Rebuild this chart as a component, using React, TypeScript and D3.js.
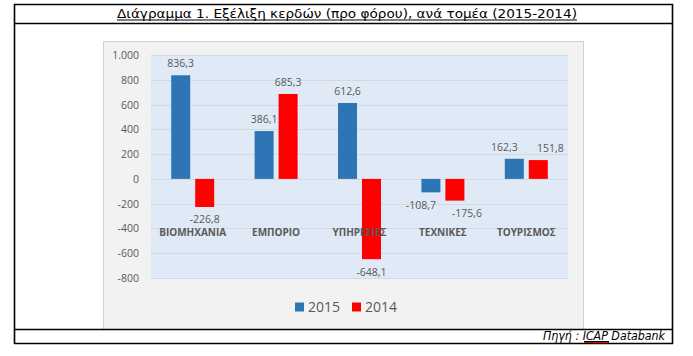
import React from "react";
import * as d3 from "d3";

const categories = ["ΒΙΟΜΗΧΑΝΙΑ", "ΕΜΠΟΡΙΟ", "ΥΠΗΡΕΣΙΕΣ", "ΤΕΧΝΙΚΕΣ", "ΤΟΥΡΙΣΜΟΣ"];
const seriesNames = ["2015", "2014"];
const values2015 = [836.3, 386.1, 612.6, -108.7, 162.3];
const values2014 = [-226.8, 685.3, -648.1, -175.6, 151.8];
const yTicks = [1000, 800, 600, 400, 200, 0, -200, -400, -600, -800];
const colors = ["#2e75b6", "#ff0000"];
const title = "Διάγραμμα 1. Εξέλιξη κερδών (προ φόρου), ανά τομέα (2015-2014)";

const W = 693;
const H = 356;
const plot = { left: 151, right: 568, top: 55, bottom: 278 };

const fmtNum = (v: number) => v.toFixed(1).replace(".", ",");
const fmtTick = (v: number) => {
  const s = Math.abs(v) >= 1000 ? d3.format(",")(v).replace(/,/g, ".") : String(v);
  return s;
};

export default function App() {
  const y = d3.scaleLinear().domain([-800, 1000]).range([plot.bottom, plot.top]);
  const x0 = d3.scaleBand<string>().domain(categories).range([plot.left, plot.right]).padding(0);
  const groupW = 43;
  const x1 = d3.scaleBand<string>().domain(seriesNames).range([0, groupW]).paddingInner(0.208);
  const series = [values2015, values2014];
  const txt = "#595959";
  const chartFont = "'Open Sans', 'Noto Sans', sans-serif";
  const charW = 5.9;

  // label positions with simple collision avoidance (like Excel)
  const labels: { key: string; x: number; y: number; text: string }[] = [];
  categories.forEach((c, i) => {
    const group = series.map((vals, si) => {
      const v = vals[i];
      const gx = (x0(c) as number) + (x0.bandwidth() - groupW) / 2 + (x1(seriesNames[si]) as number);
      const yv = y(v);
      const text = fmtNum(v);
      return { key: c + si, x: gx + x1.bandwidth() / 2, y: v >= 0 ? yv - 8 : yv + 16.5, text };
    });
    const [a, b] = group;
    const wa = a.text.length * charW;
    const wb = b.text.length * charW;
    const hOverlap = a.x + wa / 2 > b.x - wb / 2;
    const vOverlap = Math.abs(a.y - b.y) < 12;
    if (hOverlap && vOverlap) {
      a.x -= 10;
      b.x += 12;
    }
    labels.push(a, b);
  });

  return (
    <svg width={W} height={H} style={{ position: "absolute", left: 0, top: 0 }}>
      <rect x={0} y={0} width={W} height={H} fill="#ffffff" />
      {/* chart area */}
      <rect x={103.5} y={41.5} width={480} height={288} fill="#f2f2f2" stroke="#d0d0d0" strokeWidth={1} />
      <rect x={plot.left} y={plot.top} width={plot.right - plot.left} height={plot.bottom - plot.top} fill="#dfeaf6" />
      {yTicks.map((t) => (
        <g key={t}>
          <line x1={plot.left} x2={plot.right} y1={Math.round(y(t)) + 0.5} y2={Math.round(y(t)) + 0.5} stroke="#d4d9de" strokeWidth={1} />
          <text x={139} y={y(t) + 4} textAnchor="end" fontFamily={chartFont} fontSize={10.5} fill={txt}>
            {fmtTick(t)}
          </text>
        </g>
      ))}
      {categories.map((c, i) =>
        series.map((vals, si) => {
          const v = vals[i];
          const gx = (x0(c) as number) + (x0.bandwidth() - groupW) / 2 + (x1(seriesNames[si]) as number);
          const y0 = y(0);
          const yv = y(v);
          const top = Math.min(y0, yv);
          const h = Math.abs(yv - y0);
          return <rect key={c + si} x={gx} y={top} width={x1.bandwidth()} height={h} fill={colors[si]} />;
        })
      )}
      {categories.map((c) => (
        <text key={c} x={(x0(c) as number) + x0.bandwidth() / 2} y={236} textAnchor="middle" fontFamily={chartFont} fontSize={10} fontWeight="bold" fill={txt}>
          {c}
        </text>
      ))}
      {labels.map((l) => (
        <text key={"l" + l.key} x={l.x} y={l.y} textAnchor="middle" fontFamily={chartFont} fontSize={10.5} fill={txt}>
          {l.text}
        </text>
      ))}
      {/* legend */}
      {seriesNames.map((s, si) => {
        const lx = si === 0 ? 295 : 352;
        return (
          <g key={s}>
            <rect x={lx} y={302.5} width={9} height={9} fill={colors[si]} />
            <text x={lx + 13} y={312} fontFamily={chartFont} fontSize={14} fill={txt}>
              {s}
            </text>
          </g>
        );
      })}
      {/* table frame */}
      <g stroke="#000" strokeWidth={1.6} fill="none">
        <line x1={14} x2={673} y1={4.5} y2={4.5} />
        <line x1={14} x2={673} y1={23.5} y2={23.5} />
        <line x1={14} x2={673} y1={329.5} y2={329.5} />
        <line x1={14} x2={673} y1={343.5} y2={343.5} />
        <line x1={14.5} x2={14.5} y1={4} y2={344} />
        <line x1={672.5} x2={672.5} y1={4} y2={344} />
      </g>
      <text x={117} y={18} fontFamily="'DejaVu Sans', Verdana, sans-serif" fontSize={12.5} fill="#000" textLength={460} lengthAdjust="spacingAndGlyphs">
        {title}
      </text>
      <line x1={117} x2={577} y1={20} y2={20} stroke="#000" strokeWidth={1} />
      <text x={543} y={340} fontFamily="'DejaVu Sans', Verdana, sans-serif" fontSize={12} fontStyle="italic" fill="#000" textLength={122} lengthAdjust="spacingAndGlyphs">
        Πηγή : ICAP Databank
      </text>
      <line x1={584} x2={609} y1={341.5} y2={341.5} stroke="#000" strokeWidth={1} />
      <line x1={584} x2={609} y1={342.5} y2={342.5} stroke="#e00000" strokeWidth={1} />
    </svg>
  );
}
